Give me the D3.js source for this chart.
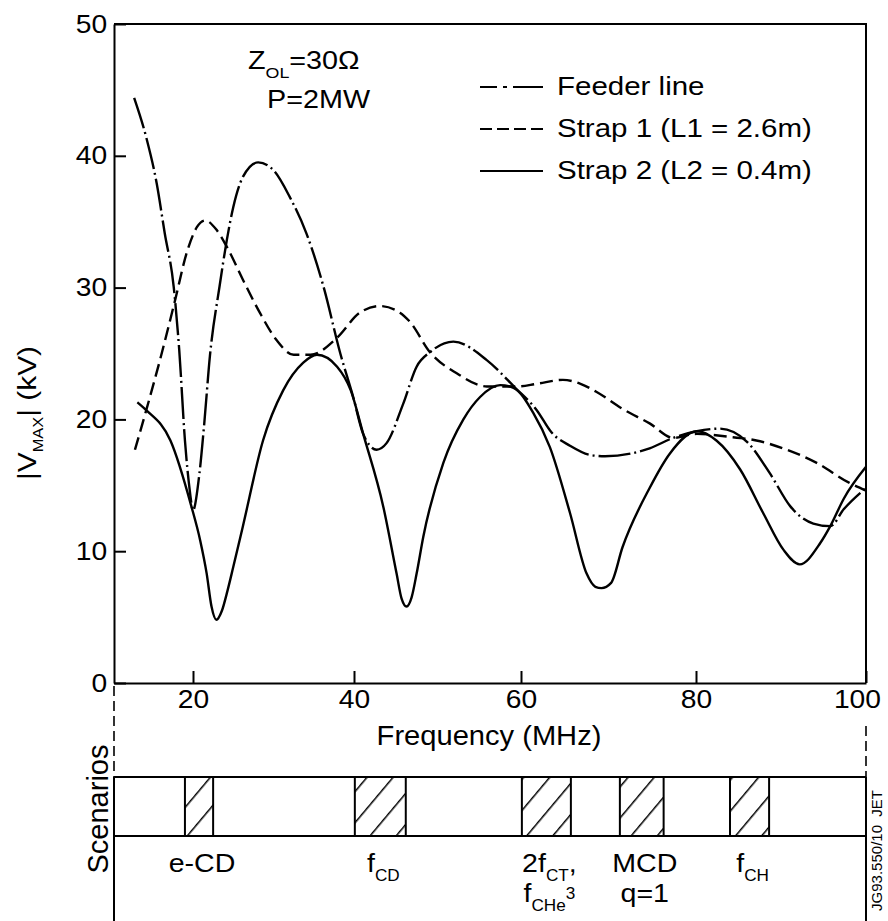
<!DOCTYPE html>
<html>
<head>
<meta charset="utf-8">
<script src="https://cdn.jsdelivr.net/npm/d3@7"></script>
<style>
  body { margin: 0; background: #fff; }
  svg text { font-family: "Liberation Sans", Arial, Helvetica, sans-serif; fill: #000; }
</style>
</head>
<body>
<svg id="chart" width="888" height="921"></svg>
<script>
// [frequency MHz, |Vmax| kV]
const feeder = [
  [12.7, 44.4], [14.2, 41.4], [15.5, 37.9], [16.5, 34.1], [17.6, 30.1], [18.3, 25.2],
  [19.0, 18.4], [19.6, 14.6], [20.0, 13.1], [20.8, 15.9], [21.4, 19.7], [22.1, 24.8],
  [23.3, 30.1], [24.2, 33.6], [25.0, 36.1], [26.2, 38.4], [28.1, 39.5], [30.0, 38.9],
  [32.0, 36.9], [34.1, 34.1], [36.2, 30.1], [38.3, 25.0], [39.9, 21.7], [41.1, 18.9],
  [42.7, 17.7], [43.9, 18.2], [45.9, 21.2], [47.5, 24.0], [49.1, 25.1], [51.9, 25.9],
  [55.9, 24.5], [59.3, 22.4], [61.8, 20.7], [63.5, 19.0], [65.6, 18.0], [67.9, 17.3],
  [69.6, 17.2], [72.5, 17.4], [74.7, 17.8], [77.4, 18.6], [80.1, 19.1], [82.8, 19.3],
  [86.0, 18.3], [88.7, 15.9], [91.1, 13.4], [93.8, 12.1], [95.8, 11.9], [97.4, 13.2],
  [100, 14.8]
];
const strap1 = [
  [12.8, 17.7], [14.2, 20.7], [15.9, 24.5], [17.8, 29.1], [19.2, 32.6], [20.5, 34.6],
  [21.5, 35.1], [22.9, 34.4], [24.2, 33.1], [26.2, 30.6], [28.3, 28.1], [30.4, 26.0],
  [32.5, 24.9], [34.6, 24.9], [37.9, 26.2], [40.7, 28.1], [43.1, 28.6], [45.5, 28.1],
  [46.7, 27.4], [49.1, 25.1], [52.3, 23.5], [55.9, 22.5], [59.5, 22.5], [61.8, 22.7],
  [64.8, 23.0], [66.8, 22.7], [68.6, 22.1], [71.6, 20.8], [74.7, 19.7], [77.4, 18.6],
  [80.1, 18.9], [83.6, 18.7], [87.1, 18.4], [90.7, 17.7], [94.2, 16.7], [98.0, 15.2],
  [100, 14.6]
];
const strap2 = [
  [13.1, 21.3], [14.2, 20.7], [17.2, 18.4], [19.8, 13.4], [20.9, 10.8], [21.7, 8.3],
  [22.3, 5.8], [22.9, 4.8], [23.6, 5.5], [24.2, 6.8], [25.0, 8.8], [26.2, 11.9],
  [28.7, 18.4], [31.2, 22.2], [33.7, 24.3], [35.4, 24.9], [37.9, 24.0], [39.6, 22.2],
  [41.1, 18.9], [43.5, 13.4], [45.1, 8.3], [45.7, 6.4], [46.3, 5.8], [46.9, 6.5],
  [47.5, 8.3], [48.3, 11.1], [50.7, 16.7], [53.1, 20.0], [55.1, 21.7], [57.5, 22.6],
  [59.1, 22.4], [61.4, 20.5], [63.3, 17.9], [65.6, 12.9], [67.5, 8.3], [68.5, 7.3],
  [69.2, 7.2], [70.3, 7.6], [71.6, 10.3], [74.7, 14.8], [77.0, 17.4], [80.1, 19.1],
  [82.4, 18.4], [85.2, 16.2], [87.9, 12.9], [90.3, 10.1], [92.2, 9.0], [94.6, 10.6],
  [95.8, 11.9], [97.4, 14.0], [100, 16.4]
];
const seriesNames = ['Feeder line', 'Strap 1 (L1 = 2.6m)', 'Strap 2 (L2 = 0.4m)'];

const xTicks = [20, 40, 60, 80, 100];
const yTicks = [0, 10, 20, 30, 40, 50];

// scenario bands [from MHz, to MHz]
const scenarioBands = [[19.0, 22.5], [40.1, 46.2], [60.1, 65.7], [71.3, 76.3], [84.0, 88.6]];
// label lines per band: [text, 'sub' | 'sup'] parts
const scenarioLabels = [
  [[['e-CD']]],
  [[['f'], ['CD', 'sub']]],
  [[['2f'], ['CT', 'sub'], [',']], [['f'], ['CHe', 'sub'], ['3', 'sup']]],
  [[['MCD']], [['q=1']]],
  [[['f'], ['CH', 'sub']]]
];

const svg = d3.select('#chart');

// tick spacing in the source drawing is slightly uneven, follow it
const x = d3.scaleLinear()
  .domain([10.2, 20, 40, 60, 80, 100])
  .range([114, 193, 354, 521, 696, 866]);
const y = d3.scaleLinear().domain([0, 50]).range([683, 24]);

function richText(parent, px, py, parts, o = {}) {
  const size = o.size || 25;
  const g = parent.append('g')
    .attr('transform', `translate(${px},${py})${o.rotate ? ` rotate(${o.rotate})` : ''} scale(${o.sx || 1},1)`);
  const t = g.append('text')
    .attr('font-size', size)
    .attr('text-anchor', o.anchor || 'start')
    .style('white-space', 'pre');
  let shift = 0;
  parts.forEach(([s, kind]) => {
    const small = kind === 'sub' || kind === 'sup';
    const target = kind === 'sub' ? size * (o.subDy || 0.33) : kind === 'sup' ? -size * 0.1 : 0;
    t.append('tspan')
      .attr('dy', target - shift)
      .attr('font-size', small ? size * (o.subScale || 0.62) : size)
      .text(s);
    shift = target;
  });
  return t;
}

// ---- main plot ----
const plot = svg.append('g');

plot.append('path')
  .attr('d', `M${x(10.2)},${y(50)}H${x(100)}V${y(0)}`)
  .attr('fill', 'none').attr('stroke', '#000').attr('stroke-width', 2);

const xAxis = plot.append('g')
  .attr('transform', `translate(0,${y(0)})`)
  .call(d3.axisBottom(x).tickValues(xTicks).tickSize(-12).tickSizeOuter(0).tickPadding(7));
const yAxis = plot.append('g')
  .attr('transform', `translate(${x(10.2)},0)`)
  .call(d3.axisLeft(y).tickValues(yTicks).tickSize(-12).tickSizeOuter(0).tickPadding(6));

[xAxis, yAxis].forEach(a => {
  a.select('.domain').attr('stroke-width', 2);
  a.selectAll('.tick line').attr('stroke-width', 2);
  a.selectAll('.tick text')
    .attr('font-size', 25)
    .attr('font-family', null)
    .attr('transform', 'scale(1.13,1)');
  a.attr('font-family', null).attr('font-size', null);
});
// the last label sits a little inside the frame edge, as in the source
xAxis.selectAll('.tick text').filter(d => d === 100).attr('x', -8);

const line = d3.line()
  .x(d => x(d[0]))
  .y(d => y(d[1]))
  .curve(d3.curveMonotoneX);

const plotDash = ['32,4,2,4', '13,6', null];
const legendDash = ['17,6,4,6,40', '12,5', null];

[feeder, strap1, strap2].forEach((data, i) => {
  plot.append('path')
    .datum(data)
    .attr('fill', 'none')
    .attr('stroke', '#000')
    .attr('stroke-width', 2.4)
    .attr('stroke-dasharray', plotDash[i])
    .attr('d', line);
});

// legend
const legend = plot.append('g').attr('transform', 'translate(480,87)');
seriesNames.forEach((name, i) => {
  const row = legend.append('g').attr('transform', `translate(0,${i * 42})`);
  row.append('line')
    .attr('x1', 0).attr('x2', 63).attr('y1', 0).attr('y2', 0)
    .attr('stroke', '#000').attr('stroke-width', 2.2)
    .attr('stroke-dasharray', legendDash[i]);
  richText(row, 77, 8, [[name]], { size: 25, sx: 1.18 });
});

// conditions
richText(plot, 248, 69, [['Z'], ['OL', 'sub'], ['=30Ω']], { size: 25, sx: 1.15, subScale: 0.62, subDy: 0.36 });
richText(plot, 267, 108, [['P=2MW']], { size: 25, sx: 1.15 });

// axis titles
richText(plot, 489, 745, [['Frequency (MHz)']], { size: 28, sx: 1.04, anchor: 'middle' });
richText(plot, 36, 413, [['|V'], ['MAX', 'sub'], ['| (kV)']],
  { size: 26, sx: 1.15, anchor: 'middle', rotate: -90, subScale: 0.55, subDy: 0.25 });

// ---- scenarios strip ----
const strip = svg.append('g');
const stripTop = 777, stripBottom = 836;

const defs = svg.append('defs');
defs.append('pattern')
  .attr('id', 'hatch')
  .attr('patternUnits', 'userSpaceOnUse')
  .attr('width', 20).attr('height', 20)
  .attr('patternTransform', 'rotate(40)')
  .append('line')
  .attr('x1', 0).attr('y1', 0).attr('x2', 0).attr('y2', 20)
  .attr('stroke', '#000').attr('stroke-width', 3);

strip.selectAll('rect.band')
  .data(scenarioBands)
  .enter().append('rect')
  .attr('class', 'band')
  .attr('x', d => x(d[0]))
  .attr('width', d => x(d[1]) - x(d[0]))
  .attr('y', stripTop)
  .attr('height', stripBottom - stripTop)
  .attr('fill', 'url(#hatch)')
  .attr('stroke', '#000')
  .attr('stroke-width', 2);

[stripTop, stripBottom].forEach(yy => {
  strip.append('line')
    .attr('x1', x(10.2)).attr('x2', x(100)).attr('y1', yy).attr('y2', yy)
    .attr('stroke', '#000').attr('stroke-width', 2);
});

// side guides: dashed above the strip, solid through and below it
[[x(10.2), 686], [x(100), 726]].forEach(([xx, y0]) => {
  strip.append('line')
    .attr('x1', xx).attr('x2', xx).attr('y1', y0).attr('y2', stripTop)
    .attr('stroke', '#000').attr('stroke-width', 1.6).attr('stroke-dasharray', '10,5');
  strip.append('line')
    .attr('x1', xx).attr('x2', xx).attr('y1', stripTop).attr('y2', 921)
    .attr('stroke', '#000').attr('stroke-width', 2);
});

scenarioBands.forEach((b, i) => {
  const cx = (x(b[0]) + x(b[1])) / 2 + 3;
  scenarioLabels[i].forEach((parts, j) => {
    richText(strip, cx, 872 + j * 30, parts, { size: 26, sx: 1.1, anchor: 'middle', subScale: 0.6, subDy: 0.33 });
  });
});

richText(strip, 108, 809, [['Scenarios']], { size: 29, anchor: 'middle', rotate: -90 });
richText(strip, 882, 790, [['JG93.550/10  JET']], { size: 15, anchor: 'end', rotate: -90 });
</script>
</body>
</html>
